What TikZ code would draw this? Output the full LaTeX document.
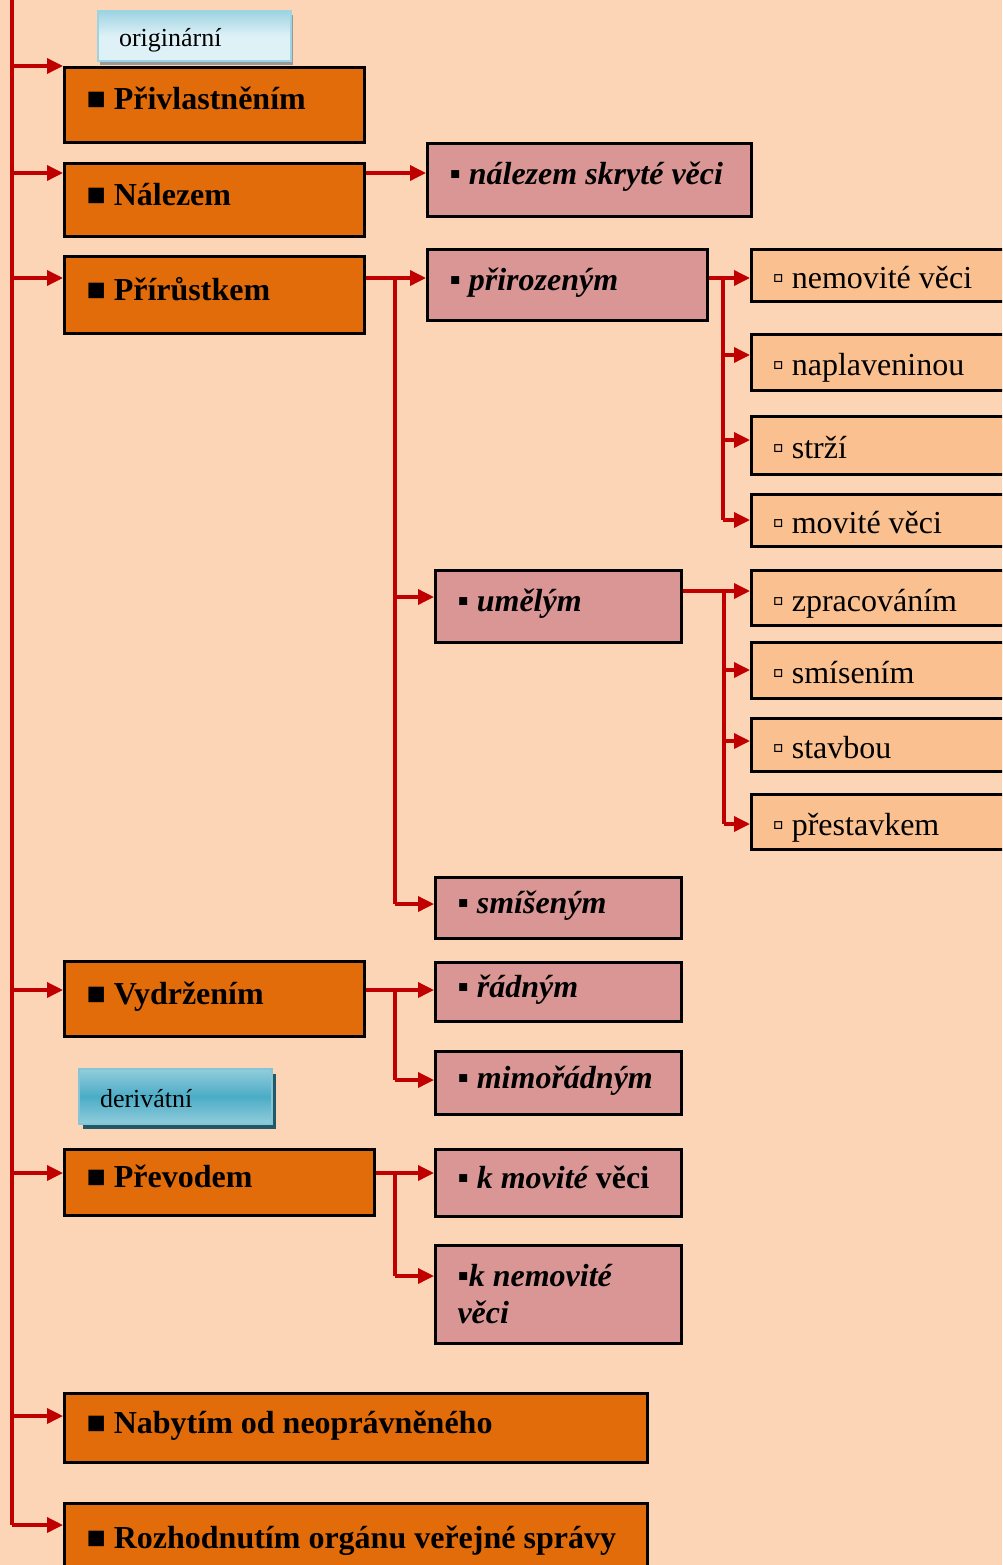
\documentclass[tikz,border=0pt]{standalone}
\usepackage{fontspec}
\setmainfont{Liberation Serif}
\usepackage{xcolor}
\usepackage{tikz}
\usetikzlibrary{arrows.meta, positioning, shadows}
\definecolor{paper}{RGB}{251,213,181}
\definecolor{rustorange}{RGB}{227,108,10}
\definecolor{dustypink}{RGB}{217,150,148}
\definecolor{apricot}{RGB}{250,192,144}
\definecolor{linkred}{RGB}{192,0,0}
\definecolor{skylight}{RGB}{222,241,247}
\definecolor{skymid}{RGB}{158,212,226}
\definecolor{tealmid}{RGB}{75,172,198}
\definecolor{teallight}{RGB}{146,205,220}
\definecolor{tealdark}{RGB}{33,89,104}

\tikzset{
  box/.style={draw=black, line width=3pt, anchor=north west, inner xsep=22pt,
    inner ysep=0pt, align=flush left},
  mainbox/.style={box, fill=rustorange, text width=#1,
    font=\fontsize{32}{37}\selectfont\bfseries, text height=24pt, text depth=14pt},
  subbox/.style={box, fill=dustypink, text width=#1,
    font=\fontsize{32}{37}\selectfont\bfseries\itshape, text height=24pt, text depth=14pt},
  leafbox/.style={box, fill=apricot, text width=234pt, inner xsep=21pt,
    font=\fontsize{32}{37}\selectfont, text height=30pt, text depth=4pt},
  tag/.style={anchor=north west, inner xsep=21pt, inner ysep=0pt, text width=151pt,
    align=flush left, font=\fontsize{26}{30}\selectfont, text height=26pt, text depth=4pt,
    line width=2pt},
  link/.style={draw=linkred, line width=3.5pt},
  arr/.style={link, -{Triangle[length=16pt,width=15pt]}}
}
\newcommand{\bigsq}{■\ }
\newcommand{\midsq}{{\upshape▪}\ }
\newcommand{\smallsq}{▫\ }

\begin{document}
\begin{tikzpicture}[x=1pt, y=-1pt]
  \fill[paper] (0,0) rectangle (1002,1565);
  \clip (0,0) rectangle (1002,1565);

  % group labels
  \node[tag, minimum height=50pt, draw=skymid, top color=skymid, bottom color=skylight,
    middle color=skylight, drop shadow={shadow xshift=2pt, shadow yshift=-4pt, fill=black!40, opacity=1}]
    (orig) at (97,10) {originární};
  \node[tag, minimum height=55pt, draw=teallight!80!tealmid, top color=teallight, bottom color=teallight,
    middle color=tealmid, drop shadow={shadow xshift=4pt, shadow yshift=-5pt, fill=tealdark, opacity=1}]
    (deriv) at (78,1068) {derivátní};

  % first level
  \node[mainbox=256pt, minimum height=75pt] (privl) at (63,66) {\mbox{\bigsq Přivlastněním}};
  \node[mainbox=256pt, minimum height=73pt] (nalez) at (63,162) {\mbox{\bigsq Nálezem}};
  \node[mainbox=256pt, minimum height=77pt] (prir) at (63,255) {\mbox{\bigsq Přírůstkem}};
  \node[mainbox=256pt, minimum height=75pt] (vydr) at (63,960) {\mbox{\bigsq Vydržením}};
  \node[mainbox=266pt, minimum height=66pt] (prev) at (63,1148) {\mbox{\bigsq Převodem}};
  \node[mainbox=539pt, minimum height=69pt] (nabyt) at (63,1392) {\mbox{\bigsq Nabytím od neoprávněného}};
  \node[mainbox=539pt, minimum height=80pt] (rozh) at (63,1502) {\mbox{\bigsq Rozhodnutím orgánu veřejné správy}};

  % second level
  \node[subbox=280pt, minimum height=73pt] (skryt) at (426,142) {\mbox{\midsq nálezem skryté věci}};
  \node[subbox=236pt, minimum height=71pt] (priroz) at (426,248) {\mbox{\midsq přirozeným}};
  \node[subbox=202pt, minimum height=72pt] (umel) at (434,569) {\mbox{\midsq umělým}};
  \node[subbox=202pt, minimum height=61pt] (smis) at (434,876) {\mbox{\midsq smíšeným}};
  \node[subbox=202pt, minimum height=59pt] (radn) at (434,961) {\mbox{\midsq řádným}};
  \node[subbox=202pt, minimum height=63pt] (mimor) at (434,1050) {\mbox{\midsq mimořádným}};
  \node[subbox=202pt, minimum height=67pt] (kmov) at (434,1148) {\mbox{\midsq k movité {\upshape věci}}};
  \node[subbox=202pt, minimum height=98pt, text height={}, text depth={}] (knem) at (434,1244)
    {{\upshape▪}k nemovité\\věci};

  % third level
  \node[leafbox, minimum height=52pt] (nemov) at (750,248) {\mbox{\smallsq nemovité věci}};
  \node[leafbox, minimum height=56pt] (naplav) at (750,333) {\mbox{\smallsq naplaveninou}};
  \node[leafbox, minimum height=58pt] (strz) at (750,415) {\mbox{\smallsq strží}};
  \node[leafbox, minimum height=52pt] (movit) at (750,493) {\mbox{\smallsq movité věci}};
  \node[leafbox, minimum height=55pt] (zprac) at (750,569) {\mbox{\smallsq zpracováním}};
  \node[leafbox, minimum height=56pt] (smisen) at (750,641) {\mbox{\smallsq smísením}};
  \node[leafbox, minimum height=53pt] (stavb) at (750,717) {\mbox{\smallsq stavbou}};
  \node[leafbox, minimum height=55pt] (prest) at (750,793) {\mbox{\smallsq přestavkem}};

  % trunk
  \coordinate (trunk) at (12,0);
  \draw[link] (trunk) -- (12,1525);
  \foreach \n/\y in {privl/66, nalez/173, prir/278, vydr/990, prev/1173, nabyt/1416, rozh/1525}
    \draw[arr] (trunk |- 0,\y) -- (\n.west |- 0,\y);

  % branches
  \draw[arr] (nalez.east |- 0,173) -- (skryt.west |- 0,173);

  \coordinate (forkA) at (395,278);
  \draw[arr] (prir.east |- forkA) -- (priroz.west |- forkA);
  \draw[link] (forkA) -- (395,904);
  \foreach \n/\y in {umel/597, smis/904}
    \draw[arr] (forkA |- 0,\y) -- (\n.west |- 0,\y);

  \coordinate (forkB) at (723,278);
  \draw[arr] (priroz.east |- forkB) -- (nemov.west |- forkB);
  \draw[link] (forkB) -- (723,520);
  \foreach \n/\y in {naplav/355, strz/440, movit/520}
    \draw[arr] (forkB |- 0,\y) -- (\n.west |- 0,\y);

  \coordinate (forkC) at (724,591);
  \draw[arr] (umel.east |- forkC) -- (zprac.west |- forkC);
  \draw[link] (forkC) -- (724,824);
  \foreach \n/\y in {smisen/670, stavb/741, prest/824}
    \draw[arr] (forkC |- 0,\y) -- (\n.west |- 0,\y);

  \coordinate (forkD) at (395,990);
  \draw[arr] (vydr.east |- forkD) -- (radn.west |- forkD);
  \draw[link] (forkD) -- (395,1080);
  \draw[arr] (forkD |- 0,1080) -- (mimor.west |- 0,1080);

  \coordinate (forkE) at (395,1173);
  \draw[arr] (prev.east |- forkE) -- (kmov.west |- forkE);
  \draw[link] (forkE) -- (395,1276);
  \draw[arr] (forkE |- 0,1276) -- (knem.west |- 0,1276);
\end{tikzpicture}
\end{document}
